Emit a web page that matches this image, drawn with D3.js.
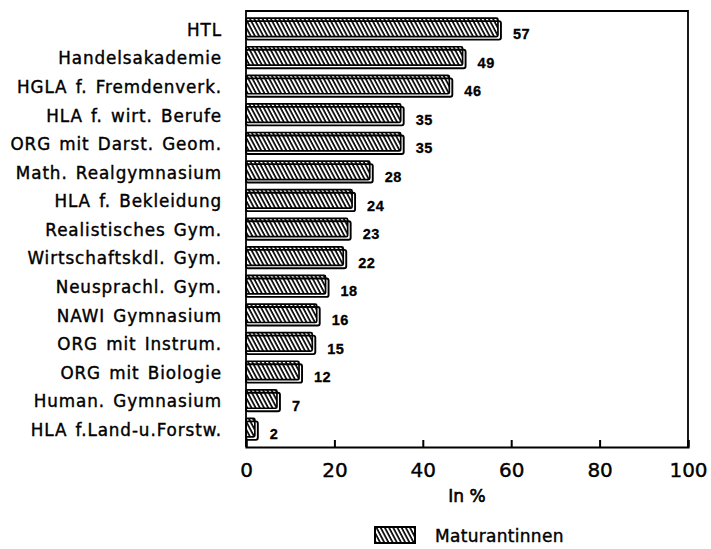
<!DOCTYPE html>
<html>
<head>
<meta charset="utf-8">
<script src="https://cdn.jsdelivr.net/npm/d3@7"></script>
<style>
  html, body { margin: 0; padding: 0; background: #fff; }
  svg { display: block; }
</style>
</head>
<body>
<svg id="chart" width="711" height="549"></svg>
<script>
// Schools, top to bottom
const categories = [
  "HTL",
  "Handelsakademie",
  "HGLA f. Fremdenverk.",
  "HLA f. wirt. Berufe",
  "ORG mit Darst. Geom.",
  "Math. Realgymnasium",
  "HLA f. Bekleidung",
  "Realistisches Gym.",
  "Wirtschaftskdl. Gym.",
  "Neusprachl. Gym.",
  "NAWI Gymnasium",
  "ORG mit Instrum.",
  "ORG mit Biologie",
  "Human. Gymnasium",
  "HLA f.Land-u.Forstw."
];
// Share of female graduates, in percent
const values = [57, 49, 46, 35, 35, 28, 24, 23, 22, 18, 16, 15, 12, 7, 2];
const tickValues = [0, 20, 40, 60, 80, 100];
const axisTitle = "In %";
const seriesName = "Maturantinnen";

const svg = d3.select("#chart");
const plot = { left: 246, right: 688, top: 11, bottom: 447 };
const depth = 3;
const labelFont = "'DejaVu Sans', sans-serif";

const x = d3.scaleLinear().domain([0, 100]).range([plot.left, plot.right]);
const y = d3.scaleBand().domain(categories).range([plot.top, plot.bottom]).padding(0.25);

// Diagonal hatch used on the bar faces
const defs = svg.append("defs");
defs.append("pattern")
  .attr("id", "hatch")
  .attr("patternUnits", "userSpaceOnUse")
  .attr("width", 3.7).attr("height", 8)
  .attr("patternTransform", "rotate(-28)")
  .append("line")
  .attr("x1", 1).attr("y1", 0).attr("x2", 1).attr("y2", 8)
  .attr("stroke", "#000").attr("stroke-width", 1.7);

// Bars: an offset white block for depth, then the hatched face
const faceH = y.bandwidth() - depth;
const bars = svg.append("g").selectAll("g").data(values).join("g");

bars.append("rect")
  .attr("x", x(0))
  .attr("y", (d, i) => y(categories[i]) + depth)
  .attr("width", d => x(d) - x(0) + depth)
  .attr("height", faceH)
  .attr("rx", 2)
  .attr("fill", "#fff").attr("stroke", "#000").attr("stroke-width", 1.9);

bars.append("rect")
  .attr("x", x(0))
  .attr("y", (d, i) => y(categories[i]))
  .attr("width", d => x(d) - x(0))
  .attr("height", faceH)
  .attr("rx", 1.5)
  .attr("fill", "url(#hatch)").attr("stroke", "#000").attr("stroke-width", 1.7);

// Value labels
bars.append("text")
  .attr("x", d => x(d) + 15)
  .attr("y", (d, i) => y(categories[i]) + y.bandwidth() * 0.74)
  .attr("dominant-baseline", "central")
  .attr("font-family", "'Liberation Sans', Arial, sans-serif")
  .attr("font-weight", "bold")
  .attr("font-size", 14.5)
  .attr("letter-spacing", 0.5)
  .attr("fill", "#000")
  .attr("stroke", "#000").attr("stroke-width", 0.3)
  .text(d => d);

// Frame
svg.append("path")
  .attr("d", `M${plot.left},${plot.bottom}V${plot.top}H${plot.right}V${plot.bottom}`)
  .attr("fill", "none").attr("stroke", "#000").attr("stroke-width", 1.8);

// Bottom axis with inward ticks
const xAxis = d3.axisBottom(x).tickValues(tickValues).tickSize(-7).tickPadding(16).tickFormat(d3.format("d"));
const gx = svg.append("g").attr("transform", `translate(0,${plot.bottom})`).call(xAxis);
gx.select(".domain").attr("stroke", "#000").attr("stroke-width", 2.2);
gx.selectAll(".tick line").attr("stroke", "#000").attr("stroke-width", 2);
gx.selectAll(".tick text")
  .attr("font-family", labelFont)
  .attr("font-size", 20)
  .attr("fill", "#000")
  .attr("stroke", "#000").attr("stroke-width", 0.4);

// Category labels
const yAxis = d3.axisLeft(y).tickSize(0).tickPadding(0);
const gy = svg.append("g").attr("transform", `translate(222,${1.5})`).call(yAxis);
gy.select(".domain").remove();
gy.selectAll(".tick text")
  .attr("font-family", labelFont)
  .attr("font-size", 16.8)
  .attr("letter-spacing", 0.9)
  .attr("word-spacing", 2)
  .attr("fill", "#000")
  .attr("stroke", "#000").attr("stroke-width", 0.4);

// Axis title
svg.append("text")
  .attr("x", x(50)).attr("y", 496)
  .attr("text-anchor", "middle").attr("dominant-baseline", "central")
  .attr("font-family", labelFont).attr("font-size", 17)
  .attr("fill", "#000").attr("stroke", "#000").attr("stroke-width", 0.6)
  .text(axisTitle);

// Legend
const legend = svg.append("g").attr("transform", "translate(375,527)");
legend.append("rect")
  .attr("width", 40).attr("height", 16)
  .attr("fill", "url(#hatch)").attr("stroke", "#000").attr("stroke-width", 2);
legend.append("text")
  .attr("x", 60).attr("y", 9)
  .attr("dominant-baseline", "central")
  .attr("font-family", labelFont).attr("font-size", 17)
  .attr("letter-spacing", 0.3)
  .attr("fill", "#000").attr("stroke", "#000").attr("stroke-width", 0.4)
  .text(seriesName);
</script>
</body>
</html>
